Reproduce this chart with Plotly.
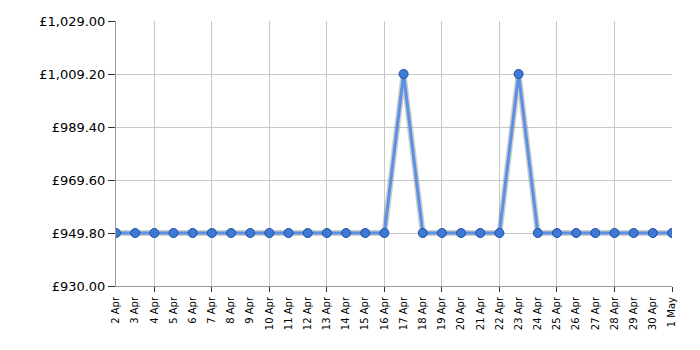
import plotly.graph_objects as go

dates = ["2 Apr","3 Apr","4 Apr","5 Apr","6 Apr","7 Apr","8 Apr","9 Apr","10 Apr","11 Apr",
         "12 Apr","13 Apr","14 Apr","15 Apr","16 Apr","17 Apr","18 Apr","19 Apr","20 Apr","21 Apr",
         "22 Apr","23 Apr","24 Apr","25 Apr","26 Apr","27 Apr","28 Apr","29 Apr","30 Apr","1 May"]
prices = [949.80]*15 + [1009.20] + [949.80]*5 + [1009.20] + [949.80]*8
y_ticks = [930.00, 949.80, 969.60, 989.40, 1009.20, 1029.00]
grid_dates = ["4 Apr","7 Apr","10 Apr","13 Apr","16 Apr","19 Apr","22 Apr","25 Apr","28 Apr","1 May"]

xi = list(range(len(dates)))
grid_idx = [dates.index(d) for d in grid_dates]

fig = go.Figure()
# shadow
fig.add_trace(go.Scatter(x=xi, y=prices, mode="lines",
                         line=dict(color="rgba(90,90,90,0.3)", width=6),
                         hoverinfo="skip", showlegend=False))
fig.add_trace(go.Scatter(x=xi, y=prices, mode="lines+markers",
                         line=dict(color="#5b90e2", width=3),
                         marker=dict(size=9, color="#3d7ad6",
                                     line=dict(color="#1f4f9c", width=1)),
                         showlegend=False))
# overlay axis carrying grid + tick marks every 3 days
fig.add_trace(go.Scatter(x=xi, y=prices, mode="lines", xaxis="x2",
                         line=dict(width=0), opacity=0, hoverinfo="skip", showlegend=False))

fig.update_layout(
    width=700, height=350,
    margin=dict(l=116, r=28, t=21, b=64),
    paper_bgcolor="white", plot_bgcolor="white",
    font=dict(family="DejaVu Sans, Verdana, sans-serif", color="#000"),
    xaxis=dict(range=[0, len(dates)-1], tickvals=xi, ticktext=dates, tickangle=-90,
               tickfont=dict(size=10), showgrid=False, zeroline=False,
               showline=True, linecolor="#999", linewidth=1, ticks="outside",
               ticklen=6, tickcolor="rgba(0,0,0,0)"),
    xaxis2=dict(range=[0, len(dates)-1], overlaying="x", side="bottom",
                tickvals=grid_idx, showticklabels=False, showgrid=True,
                gridcolor="#c8c8c8", gridwidth=1, ticks="outside", ticklen=5,
                tickcolor="#333", zeroline=False, showline=False),
    yaxis=dict(range=[930, 1029], tickvals=y_ticks,
               ticktext=["£{:,.2f}".format(v) for v in y_ticks],
               tickfont=dict(size=13), showgrid=True, gridcolor="#c8c8c8",
               zeroline=False, showline=True, linecolor="#999", linewidth=1,
               ticks="outside", ticklen=7, tickcolor="#333"),
)

fig.write_html("out.html")
